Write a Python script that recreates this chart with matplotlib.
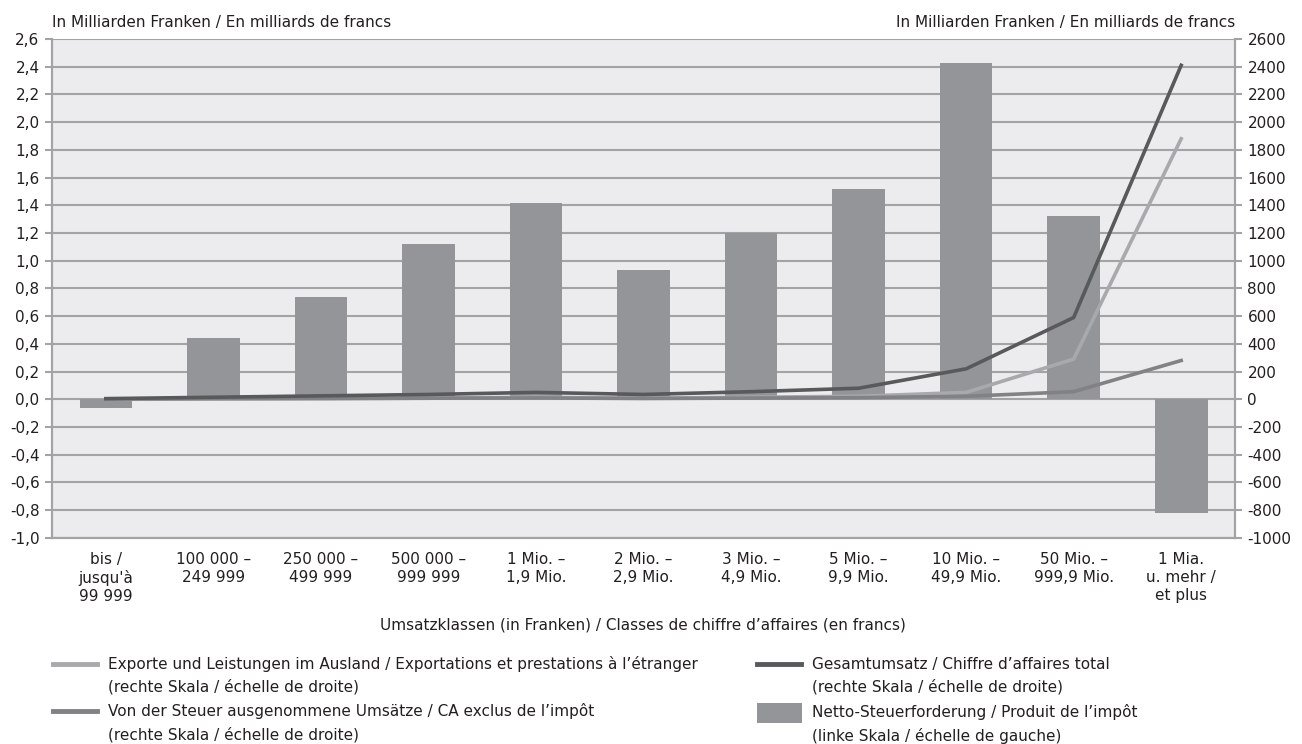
import numpy as np
import matplotlib
matplotlib.use("Agg")
import matplotlib.pyplot as plt
from matplotlib.lines import Line2D
from matplotlib.patches import Rectangle
from matplotlib.ticker import FuncFormatter

plt.rcParams['font.family'] = ['DejaVu Sans']
plt.rcParams['axes.unicode_minus'] = False

# Daten
categories = [
    "bis /\njusqu'à\n99 999", "100 000 –\n249 999", "250 000 –\n499 999",
    "500 000 –\n999 999", "1 Mio. –\n1,9 Mio.", "2 Mio. –\n2,9 Mio.",
    "3 Mio. –\n4,9 Mio.", "5 Mio. –\n9,9 Mio.", "10 Mio. –\n49,9 Mio.",
    "50 Mio. –\n999,9 Mio.", "1 Mia.\nu. mehr /\net plus",
]
netto = [-0.06, 0.44, 0.74, 1.12, 1.42, 0.93, 1.20, 1.52, 2.43, 1.32, -0.82]
gesamt = [5, 15, 25, 35, 50, 35, 55, 80, 220, 590, 2410]
exporte = [1, 3, 5, 8, 15, 8, 15, 22, 50, 290, 1880]
exklusiv = [2, 5, 6, 8, 10, 6, 9, 12, 22, 55, 280]

legend_labels = [
    "Exporte und Leistungen im Ausland / Exportations et prestations à l’étranger\n(rechte Skala / échelle de droite)",
    "Von der Steuer ausgenommene Umsätze / CA exclus de l’impôt\n(rechte Skala / échelle de droite)",
    "Gesamtumsatz / Chiffre d’affaires total\n(rechte Skala / échelle de droite)",
    "Netto-Steuerforderung / Produit de l’impôt\n(linke Skala / échelle de gauche)",
]

c_bg = '#ECECEE'
c_bar = '#939598'
c_gesamt = '#58595B'
c_export = '#A7A9AC'
c_exkl = '#808285'
c_grid = '#A3A3A5'
c_text = '#231F20'

W, H = 1302, 744
fig = plt.figure(figsize=(W / 100, H / 100), dpi=100)
ax = fig.add_axes([0.040, 0.277, 0.9085, 0.6706])
ax.set_facecolor(c_bg)
x = np.arange(len(categories))

ax.bar(x, netto, width=0.49, color=c_bar, zorder=2)
ax.set_xlim(-0.5, len(categories) - 0.5)
ax.set_ylim(-1.0, 2.6)
ax.set_yticks(np.arange(-1.0, 2.61, 0.2))
ax.yaxis.set_major_formatter(FuncFormatter(lambda v, p: f"{v:.1f}".replace('.', ',').replace('-0,0', '0,0')))
ax.grid(axis='y', color=c_grid, linewidth=1.5, zorder=1)
ax.set_axisbelow(True)
ax.set_xticks(x)
ax.set_xticklabels(categories, fontsize=11, color=c_text, linespacing=1.25)
ax.tick_params(axis='x', length=0, pad=10)
ax.tick_params(axis='y', labelsize=11, labelcolor=c_text, color=c_grid, length=5, width=1.5, pad=4)

ax2 = ax.twinx()
ax2.set_ylim(-1000, 2600)
ax2.set_yticks(np.arange(-1000, 2601, 200))
ax2.yaxis.set_major_formatter(FuncFormatter(lambda v, p: f"{v:.0f}"))
ax2.tick_params(axis='y', labelsize=11, labelcolor=c_text, color=c_grid, length=5, width=1.5, pad=4)
ax2.plot(x, exporte, color=c_export, linewidth=2.6, zorder=3)
ax2.plot(x, exklusiv, color=c_exkl, linewidth=2.6, zorder=3)
ax2.plot(x, gesamt, color=c_gesamt, linewidth=2.6, zorder=4)

for a in (ax, ax2):
    a.spines['top'].set_visible(False)
    for s in ('left', 'right', 'bottom'):
        a.spines[s].set_color(c_grid)
        a.spines[s].set_linewidth(1.5)

ax.text(0.0, 1.018, "In Milliarden Franken / En milliards de francs", transform=ax.transAxes,
        ha='left', va='bottom', fontsize=11, color=c_text)
ax2.text(1.0, 1.018, "In Milliarden Franken / En milliards de francs", transform=ax2.transAxes,
         ha='right', va='bottom', fontsize=11, color=c_text)

fig.text(0.494, 1 - 625 / H, "Umsatzklassen (in Franken) / Classes de chiffre d’affaires (en francs)",
         ha='center', va='center', fontsize=11, color=c_text)

# Legende (von Hand gesetzt, Symbol auf Höhe der ersten Zeile)
def px(xp, yp):
    return xp / W, 1 - yp / H

legend_items = [
    ('line', c_export, 53, 664, legend_labels[0]),
    ('line', c_exkl, 53, 711, legend_labels[1]),
    ('line', c_gesamt, 757, 664, legend_labels[2]),
    ('patch', c_bar, 757, 703, legend_labels[3]),
]
for kind, col, x0, y0, lab in legend_items:
    if kind == 'line':
        (xa, ya), (xb, yb) = px(x0, y0), px(x0 + 44, y0)
        fig.add_artist(Line2D([xa, xb], [ya, yb], color=col, linewidth=3.5, transform=fig.transFigure))
        ty = y0 + 11.5
    else:
        xa, ya = px(x0, y0 + 20)
        fig.add_artist(Rectangle((xa, ya), 45 / W, 20 / H, facecolor=col, edgecolor='none',
                                 transform=fig.transFigure))
        ty = y0 + 21
    tx, tyf = px(x0 + 55, ty)
    fig.text(tx, tyf, lab, ha='left', va='center', fontsize=11, color=c_text, linespacing=1.6)

fig.savefig("out.png", dpi=100, facecolor='white')
